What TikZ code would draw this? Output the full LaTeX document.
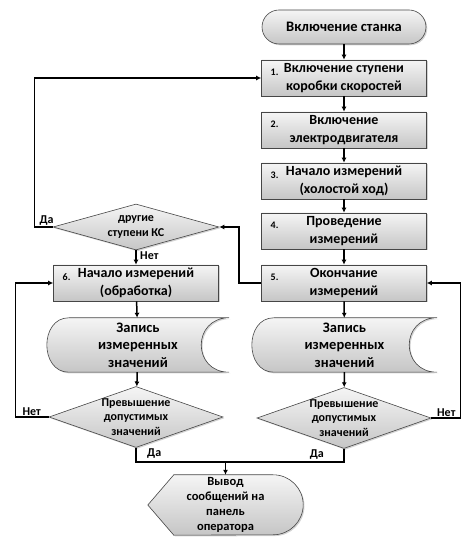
\documentclass[tikz,border=0pt]{standalone}
\usepackage{fontspec}
\setmainfont{Carlito}
\usetikzlibrary{arrows.meta,shapes.geometric,shadows,backgrounds,positioning}
\tikzset{
  fl/.style={draw=gray!55!black,line width=0.6pt,top color=gray!8,bottom color=gray!45,
    drop shadow={opacity=0.35,shadow xshift=1.3pt,shadow yshift=-1.3pt}},
  term/.style={fl,rounded corners=17pt,minimum width=164pt,minimum height=34pt,
    font=\bfseries\fontsize{14.5}{17}\selectfont},
  proc/.style={fl,rectangle,minimum width=165pt,minimum height=36pt,align=center,
    font=\bfseries\fontsize{14}{17.5}\selectfont},
  num/.style={anchor=west,xshift=6pt,yshift=6pt,font=\bfseries\fontsize{10}{11}\selectfont},
  dec/.style={fl,diamond,inner sep=0pt},
  dtxt/.style={align=center,font=\bfseries\fontsize{12}{14.5}\selectfont},
  hold/.style={rectangle,inner sep=0pt,align=center},
  ln/.style={line width=1.5pt},
  arr/.style={ln,-{Latex[length=5pt,width=5pt]}},
  lbl/.style={font=\bfseries\fontsize{12}{13}\selectfont,inner sep=1pt}
}
\newcommand{\storpath}[1]{%
  \draw[fl] ([xshift=22pt]#1.north west) -- (#1.north east)
    .. controls ([xshift=-37.3pt]#1.north east) and ([xshift=-37.3pt]#1.south east) .. (#1.south east)
    -- ([xshift=22pt]#1.south west)
    .. controls ([xshift=-7.3pt]#1.south west) and ([xshift=-7.3pt]#1.north west) .. cycle;}
\newcommand{\outpath}[1]{%
  \draw[fl] (#1.west) -- ([xshift=26pt]#1.north west) -- ([xshift=-30pt]#1.north east)
    arc[start angle=90,end angle=-90,radius=30pt] -- ([xshift=26pt]#1.south west) -- cycle;}
\begin{document}
\begin{tikzpicture}[x=1pt,y=1pt]
\useasboundingbox (0,0) rectangle (472,547);
\node[term] (st) at (344,520) {Включение станка};
\node[proc,label={[num]west:1.}] (p1) at (344,469) {Включение ступени\\коробки скоростей};
\node[proc,label={[num]west:2.}] (p2) at (344,417) {Включение\\электродвигателя};
\node[proc,label={[num]west:3.}] (p3) at (344,366) {Начало измерений\\(холостой ход)};
\node[proc,label={[num]west:4.}] (p4) at (344,316) {Проведение\\измерений};
\node[proc,label={[num]west:5.}] (p5) at (344,264) {Окончание\\измерений};
\node[dec,minimum width=166pt,minimum height=46pt,label={[dtxt]center:{другие\\ступени КС}}] (dK) at (136,320) {};
\node[proc,label={[num]west:6.}] (p6) at (136,264) {Начало измерений\\(обработка)};
\node[hold,minimum width=182pt,minimum height=54pt,font=\bfseries\fontsize{14.5}{17.5}\selectfont] (stL) at (138,202) {Запись\\измеренных\\значений};
\node[hold,minimum width=185pt,minimum height=54pt,font=\bfseries\fontsize{14.5}{17.5}\selectfont] (stR) at (344.5,202) {Запись\\измеренных\\значений};
\node[dec,minimum width=174pt,minimum height=61pt,label={[dtxt]center:{Превышение\\допустимых\\значений}}] (dL) at (136,130) {};
\node[dec,minimum width=174pt,minimum height=61pt,label={[dtxt]center:{Превышение\\допустимых\\значений}}] (dR) at (344,129) {};
\node[hold,minimum width=155pt,minimum height=60pt,font=\bfseries\fontsize{12.5}{15}\selectfont] (outp) at (225.5,42) {Вывод\\сообщений на\\панель\\оператора};
\begin{scope}[on background layer]
\storpath{stL} \storpath{stR} \outpath{outp}
\end{scope}
\draw[arr] (st) -- (p1);
\draw[arr] (p1) -- (p2);
\draw[arr] (p2) -- (p3);
\draw[arr] (p3) -- (p4);
\draw[arr] (p4) -- (p5);
\draw[arr] (p5) -- (stR);
\draw[arr] (stR) -- (dR);
\draw[arr] (dK) -- (p6);
\draw[arr] (p6) -- (stL);
\draw[arr] (stL) -- (dL);
\draw[arr] (p5.west) -- ++(-22pt,0) |- (dK.east);
\draw[arr] (dK.west) -- ++(-18pt,0) |- (p1.west);
\draw[arr] (dL.west) -- ++(-33pt,0) |- (p6.west);
\draw[arr] (dR.east) -- ++(29pt,0) |- (p5.east);
\coordinate (jn) at (225.5,85);
\draw[ln] (dL.south) |- (jn) -| (dR.south);
\draw[arr] (jn) -- (outp.north);
\node[lbl,anchor=south east] (yK) at ([xshift=2pt]dK.west) {Да};
\node[lbl,anchor=north west] (nK) at ([xshift=3pt]dK.south) {Нет};
\node[lbl,anchor=south] (nL) at ([xshift=-17pt]dL.west) {Нет};
\node[lbl,anchor=south] (nR) at ([xshift=15pt]dR.east) {Нет};
\node[lbl,anchor=north west] (yL) at ([xshift=10pt]dL.south) {Да};
\node[lbl,anchor=north east] (yR) at ([xshift=-19pt]dR.south) {Да};
\end{tikzpicture}
\end{document}
